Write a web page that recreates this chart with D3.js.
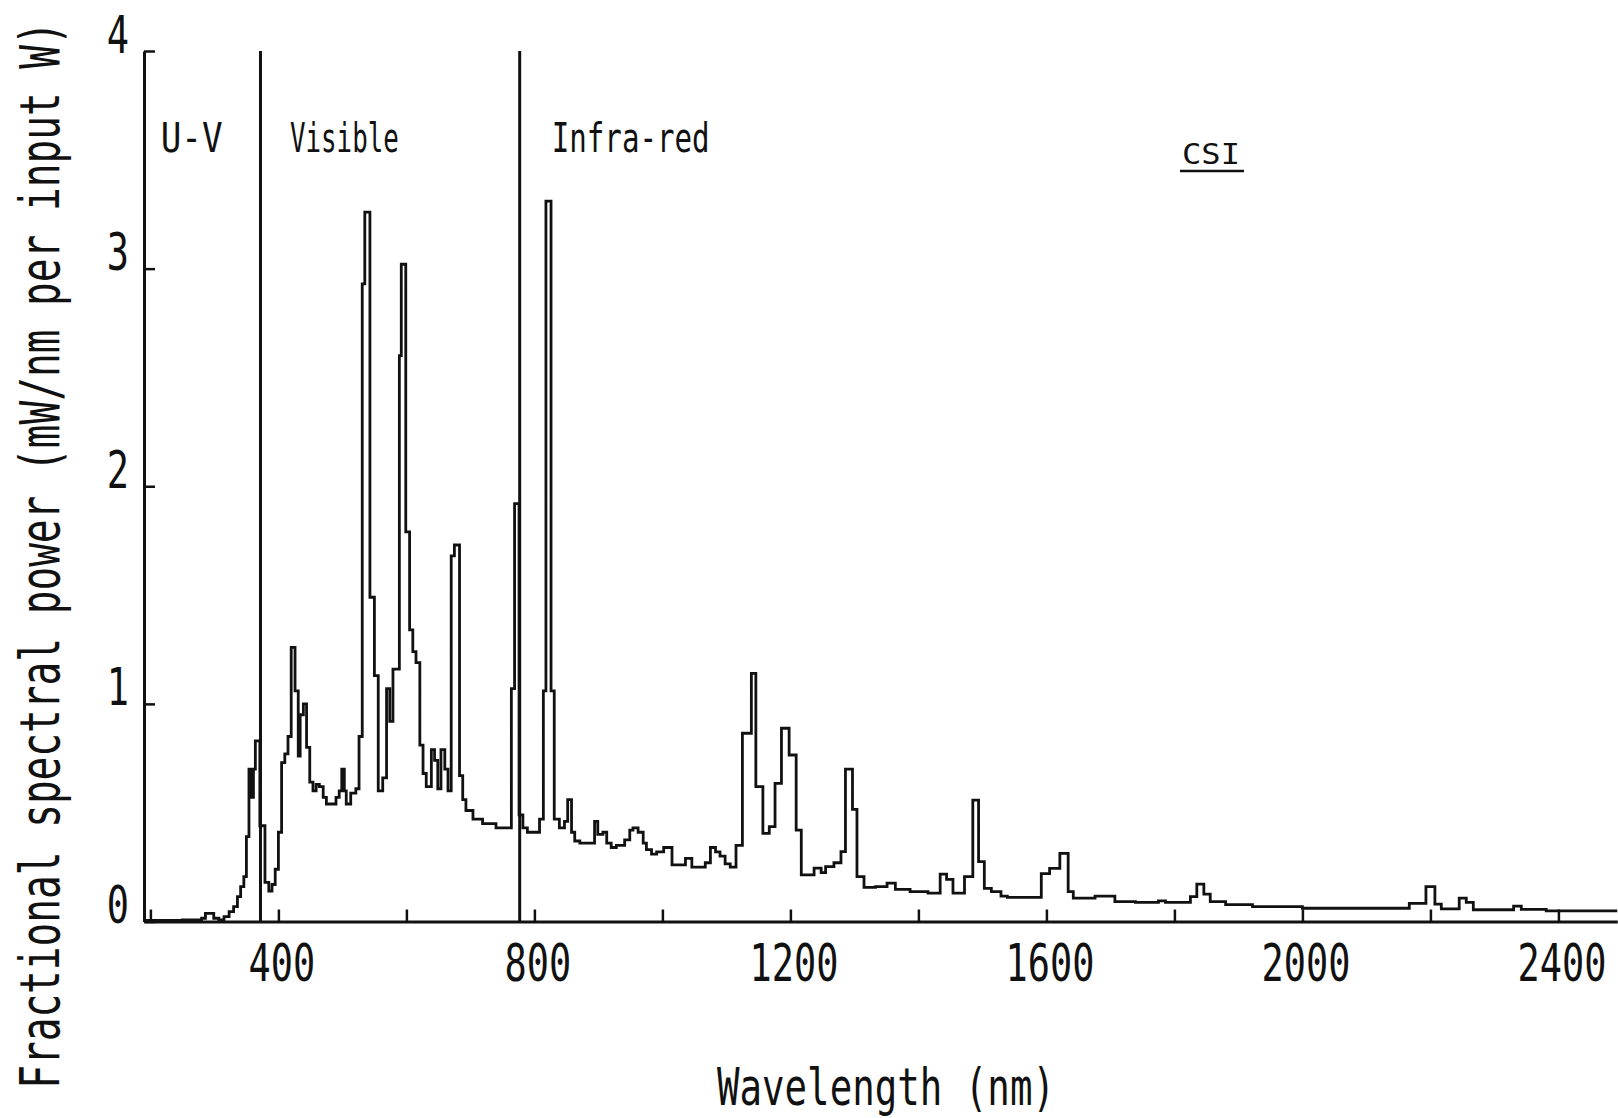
<!DOCTYPE html>
<html>
<head>
<meta charset="utf-8">
<script src="https://cdn.jsdelivr.net/npm/d3@7"></script>
<style>
  body { margin: 0; background: #fff; }
  text { font-family: "DejaVu Sans Mono", monospace; fill: #111; }
</style>
</head>
<body>
<svg id="spectrum"></svg>
<script>
// spectrum: bin start (nm) and fractional power
const binStart = [190, 250, 280, 286, 299, 307, 315, 323, 330, 336,
  341, 346, 350, 354, 358, 361, 364, 371, 379, 385,
  390, 395, 400, 405, 410, 415, 420, 426, 431, 434,
  439, 444, 449, 454, 459, 464, 470, 475, 490, 495,
  499, 503, 506, 513, 521, 526, 531, 535, 543, 550,
  556, 563, 569, 574, 579, 589, 592, 599, 605, 610,
  615, 621, 626, 631, 639, 644, 649, 654, 660, 665,
  670, 675, 683, 688, 693, 704, 719, 740, 764, 769,
  776, 782, 789, 808, 814, 818, 826, 831, 839, 847,
  852, 858, 863, 871, 894, 899, 907, 913, 920, 928,
  941, 949, 954, 962, 970, 975, 983, 991, 1002, 1015,
  1036, 1046, 1067, 1075, 1083, 1090, 1098, 1106, 1115, 1125,
  1139, 1146, 1157, 1167, 1176, 1186, 1198, 1209, 1217, 1237,
  1248, 1255, 1268, 1279, 1286, 1297, 1304, 1315, 1333, 1351,
  1364, 1387, 1415, 1434, 1444, 1454, 1472, 1485, 1494, 1503,
  1514, 1529, 1539, 1592, 1605, 1621, 1634, 1642, 1676, 1707,
  1739, 1775, 1786, 1825, 1835, 1846, 1856, 1880, 1922, 2000,
  2167, 2193, 2207, 2217, 2245, 2256, 2267, 2330, 2342, 2381];

const power = [0.005, 0.007, 0.015, 0.037, 0.015, 0.007, 0.022, 0.045, 0.068, 0.114,
  0.16, 0.206, 0.39, 0.70, 0.57, 0.70, 0.83, 0.44, 0.18, 0.14,
  0.17, 0.24, 0.41, 0.73, 0.77, 0.85, 1.26, 1.06, 0.76, 0.95,
  1.00, 0.80, 0.64, 0.60, 0.63, 0.62, 0.57, 0.54, 0.57, 0.60,
  0.70, 0.60, 0.54, 0.59, 0.61, 0.85, 2.93, 3.26, 1.49, 1.13,
  0.60, 0.66, 1.07, 0.92, 1.16, 2.60, 3.02, 1.79, 1.34, 1.24,
  1.19, 0.81, 0.68, 0.62, 0.79, 0.74, 0.61, 0.79, 0.70, 0.60,
  1.68, 1.73, 0.67, 0.56, 0.51, 0.47, 0.45, 0.43, 1.07, 1.92,
  0.49, 0.43, 0.41, 0.47, 1.06, 3.31, 1.06, 0.47, 0.43, 0.46,
  0.56, 0.41, 0.37, 0.36, 0.46, 0.40, 0.41, 0.36, 0.34, 0.35,
  0.375, 0.42, 0.43, 0.41, 0.36, 0.33, 0.31, 0.32, 0.34, 0.26,
  0.29, 0.25, 0.27, 0.34, 0.32, 0.30, 0.265, 0.25, 0.35, 0.865,
  1.14, 0.62, 0.405, 0.436, 0.635, 0.888, 0.765, 0.42, 0.214, 0.245,
  0.225, 0.252, 0.27, 0.321, 0.70, 0.515, 0.206, 0.157, 0.16, 0.176,
  0.148, 0.137, 0.13, 0.218, 0.194, 0.13, 0.206, 0.558, 0.275, 0.152,
  0.137, 0.117, 0.111, 0.22, 0.244, 0.313, 0.137, 0.107, 0.117, 0.091,
  0.088, 0.095, 0.088, 0.114, 0.172, 0.126, 0.091, 0.078, 0.068, 0.061,
  0.083, 0.16, 0.08, 0.058, 0.107, 0.088, 0.054, 0.071, 0.056, 0.049];

const xEnd = 2492;
const xTicks = [200, 400, 600, 800, 1000, 1200, 1400, 1600, 1800, 2000, 2200, 2400];
const yTicks = [0, 1, 2, 3, 4];

// region boundaries (nm) and labels
const regionBounds = [372, 777];
const regionNames = ['U-V', 'Visible', 'Infra-red'];
const regionNm = [216, 418, 827];

const width = 1618;
const height = 1118;
const squeezeX = 0.71;

const svg = d3.select('#spectrum')
  .attr('width', width)
  .attr('height', height);

const x = d3.scaleLinear()
  .domain([190, xEnd])
  .range([144, 1617.3]);

const y = d3.scaleLinear()
  .domain([0, 4])
  .range([921.5, 51]);

const data = binStart.map((d, i) => ({ nm: d, p: power[i] }));
data.push({ nm: xEnd, p: power[power.length - 1] });

// narrow the plotter-like lettering by scaling x only
function squeeze(sel, sx) {
  sel.each(function() {
    const t = d3.select(this);
    const x0 = +t.attr('x') || 0;
    const k = typeof sx === 'function' ? sx(this) : sx;
    t.attr('x', x0 / k).attr('transform', `scale(${k},1)`);
  });
}

// fit a text to a target width
const fitTo = w => node => w / node.getComputedTextLength();

// axes
const xAxis = d3.axisBottom(x)
  .tickValues(xTicks)
  .tickSizeInner(-12)
  .tickSizeOuter(0)
  .tickPadding(60)
  .tickFormat(d => d % 400 === 0 ? d : '');

const yAxis = d3.axisLeft(y)
  .tickValues(yTicks)
  .tickSizeInner(-11)
  .tickSizeOuter(0)
  .tickPadding(15)
  .tickFormat(d3.format('d'));

const gx = svg.append('g')
  .attr('transform', `translate(0, ${y(0)})`)
  .call(xAxis);

const gy = svg.append('g')
  .attr('transform', `translate(${x(190)}, 0)`)
  .call(yAxis);

[gx, gy].forEach(g => {
  g.select('.domain').attr('stroke', '#111').attr('stroke-width', 3);
  g.selectAll('.tick line').attr('stroke', '#111').attr('stroke-width', 2.5);
  g.selectAll('.tick text')
    .attr('font-family', '"DejaVu Sans Mono", monospace')
    .attr('font-size', 52)
    .attr('fill', '#111');
});

gx.selectAll('.tick text').attr('dy', 0).attr('x', 3);
gy.selectAll('.tick text').attr('dy', '0.02em');
squeeze(gx.selectAll('.tick text'), squeezeX);
squeeze(gy.selectAll('.tick text'), squeezeX);

// region dividers
svg.selectAll('line.region')
  .data(regionBounds)
  .enter()
  .append('line')
  .attr('class', 'region')
  .attr('x1', d => x(d))
  .attr('x2', d => x(d))
  .attr('y1', y(4))
  .attr('y2', y(0))
  .attr('stroke', '#111')
  .attr('stroke-width', 3);

// spectrum
const line = d3.line()
  .x(d => x(d.nm))
  .y(d => y(d.p))
  .curve(d3.curveStepAfter);

svg.append('path')
  .datum(data)
  .attr('d', line)
  .attr('fill', 'none')
  .attr('stroke', '#111')
  .attr('stroke-width', 2.8)
  .attr('stroke-linejoin', 'miter');

// region labels
const labelLen = [62, 109, 158];
const regionText = svg.selectAll('text.region')
  .data(regionNames)
  .enter()
  .append('text')
  .attr('class', 'region')
  .attr('x', (d, i) => x(regionNm[i]))
  .attr('y', 152)
  .attr('font-size', 40)
  .text(d => d);
regionText.each(function(d, i) {
  squeeze(d3.select(this), fitTo(labelLen[i]));
});

// CSI mark
const csi = svg.append('text')
  .attr('x', 1182)
  .attr('y', 164)
  .attr('font-size', 28)
  .text('CSI');
squeeze(csi, fitTo(58));

svg.append('line')
  .attr('x1', 1180)
  .attr('x2', 1244)
  .attr('y1', 171)
  .attr('y2', 171)
  .attr('stroke', '#111')
  .attr('stroke-width', 2.5);

// axis titles
const yTitle = svg.append('text')
  .attr('transform', 'translate(59, 555) rotate(-90)')
  .attr('text-anchor', 'middle')
  .attr('font-size', 56)
  .text('Fractional spectral power (mW/nm per input W)');
const ky = 1068 / yTitle.node().getComputedTextLength();
yTitle.attr('transform', `translate(59, 555) rotate(-90) scale(${ky},1)`);

const xTitle = svg.append('text')
  .attr('x', 717)
  .attr('y', 1105)
  .attr('font-size', 52)
  .text('Wavelength (nm)');
squeeze(xTitle, fitTo(338));
</script>
</body>
</html>
